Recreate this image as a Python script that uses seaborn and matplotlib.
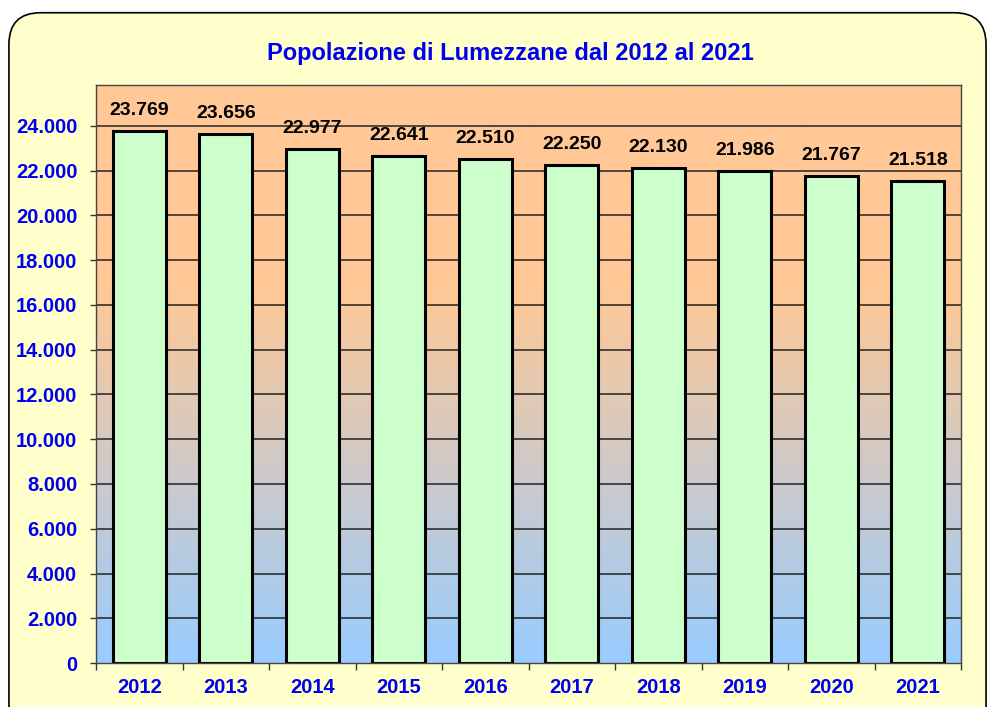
import matplotlib
matplotlib.use("Agg")
import matplotlib.pyplot as plt
import numpy as np
import pandas as pd
import seaborn as sns
from matplotlib.colors import LinearSegmentedColormap
from matplotlib.patches import FancyBboxPatch

years = ["2012", "2013", "2014", "2015", "2016", "2017", "2018", "2019", "2020", "2021"]
population = [23769, 23656, 22977, 22641, 22510, 22250, 22130, 21986, 21767, 21518]
y_ticks = list(range(0, 24001, 2000))


def dotted(v):
    return f"{v:,}".replace(",", ".")


df = pd.DataFrame({"anno": years, "popolazione": population})

sns.set_theme(style="white")
plt.rcParams["font.family"] = ["Liberation Sans", "DejaVu Sans"]

fig = plt.figure(figsize=(9.92, 7.07), dpi=100)
fig.patch.set_facecolor("white")

# rounded yellow frame (bottom edge runs off the image)
frame = FancyBboxPatch((0.009, -0.05), 0.985, 1.032, transform=fig.transFigure,
                       boxstyle="round,pad=0,rounding_size=0.032",
                       facecolor="#FFFFCC", edgecolor="black", linewidth=1.2,
                       mutation_aspect=992 / 707, zorder=-10)
fig.patches.append(frame)

ax = fig.add_axes([0.0968, 0.0622, 0.8720, 0.8176])
ax.set_zorder(1)
ax.patch.set_visible(False)
ymax = 25830

# plot area fill: solid orange in the upper part, fading to light blue at the bottom
cmap = LinearSegmentedColormap.from_list(
    "bg", [(0.0, "#99CCFF"), (0.64, "#FFC896"), (1.0, "#FFC896")])
grad = np.linspace(0, 1, 256).reshape(-1, 1)
ax.imshow(grad, extent=[-0.5, 9.5, 0, ymax], origin="lower", aspect="auto",
          cmap=cmap, zorder=0)

for t in y_ticks[1:]:
    ax.axhline(t, color="#222222", linewidth=1.1, zorder=1)

sns.barplot(data=df, x="anno", y="popolazione", color="#CCFFCC", saturation=1,
            width=0.615, edgecolor="black", linewidth=2.2, ax=ax, zorder=2)

for i, v in enumerate(population):
    ax.text(i, v + 540, dotted(v), ha="center", va="bottom", fontsize=14,
            fontweight="bold", color="black", zorder=3)

ax.set_xlim(-0.5, 9.5)
ax.set_ylim(0, ymax)
ax.set_yticks(y_ticks)
ax.set_yticklabels([dotted(t) for t in y_ticks])
ax.set_xticks(range(len(years)))
ax.set_xticklabels(years)
ax.set_xticks(np.arange(-0.5, 10, 1), minor=True)
ax.tick_params(axis="x", which="major", length=0, pad=11)
ax.tick_params(axis="x", which="minor", length=5, width=1, color="#333333", direction="out",
               bottom=True)
ax.tick_params(axis="y", length=4.5, width=1, color="#333333", direction="out", left=True, pad=9)
for lab in ax.get_xticklabels() + ax.get_yticklabels():
    lab.set_color("#0000EE")
    lab.set_fontweight("bold")
    lab.set_fontsize(14.5)

ax.set_xlabel("")
ax.set_ylabel("")
for s in ax.spines.values():
    s.set_color("#444444")
    s.set_linewidth(1)

fig.text(0.514, 0.925, "Popolazione di Lumezzane dal 2012 al 2021", ha="center", va="center",
         fontsize=17, fontweight="bold", color="#0000EE")

fig.savefig("out.png", dpi=100)
